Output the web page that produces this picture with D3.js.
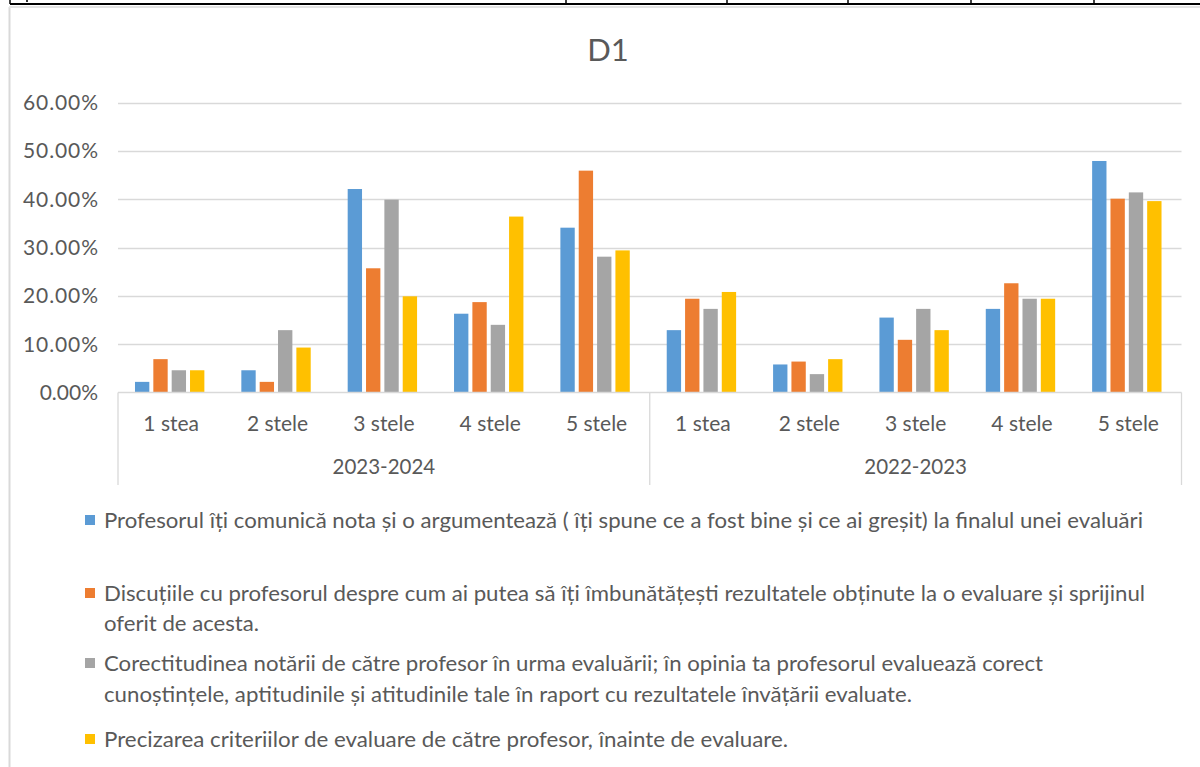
<!DOCTYPE html>
<html>
<head>
<meta charset="utf-8">
<script src="https://cdn.jsdelivr.net/npm/d3@7"></script>
<style>
  html, body { margin: 0; padding: 0; background: #fff; }
  svg { display: block; font-family: Lato, "Open Sans", sans-serif; }
</style>
</head>
<body>
<svg id="chart" width="1200" height="767"></svg>
<script>
const title = "D1";
const years = ["2023-2024", "2022-2023"];
const stars = ["1 stea", "2 stele", "3 stele", "4 stele", "5 stele"];
const seriesNames = [
  "Profesorul îți comunică nota și o argumentează ( îți spune ce a fost bine și ce ai greșit) la finalul unei evaluări",
  "Discuțiile cu profesorul despre cum ai putea să îți îmbunătățești rezultatele obținute la o evaluare și sprijinul oferit de acesta.",
  "Corectitudinea notării de către profesor în urma evaluării; în opinia ta profesorul evaluează corect cunoștințele, aptitudinile și atitudinile tale în raport cu rezultatele învățării evaluate.",
  "Precizarea criteriilor de evaluare de către profesor, înainte de evaluare."
];
// values per series, 10 categories: 2023-2024 (1..5 stele), 2022-2023 (1..5 stele)
const s1 = [0.022, 0.046, 0.421, 0.163, 0.341, 0.129, 0.058, 0.155, 0.173, 0.479];
const s2 = [0.069, 0.022, 0.257, 0.187, 0.459, 0.194, 0.064, 0.109, 0.226, 0.401];
const s3 = [0.046, 0.129, 0.399, 0.140, 0.281, 0.173, 0.038, 0.173, 0.194, 0.414];
const s4 = [0.046, 0.093, 0.199, 0.364, 0.294, 0.208, 0.069, 0.129, 0.194, 0.396];
const yTicks = [0, 0.1, 0.2, 0.3, 0.4, 0.5, 0.6];
const colors = ["#5B9BD5", "#ED7D31", "#A5A5A5", "#FFC000"];

// legend text lines (wrapped as in the reference) with their measured widths
const legendLines = [
  { s: 0, lines: [["Profesorul îți comunică nota și o argumentează ( îți spune ce a fost bine și ce ai greșit) la finalul unei evaluări", 1039]] },
  { s: 1, lines: [["Discuțiile cu profesorul despre cum ai putea să îți îmbunătățești rezultatele obținute la o evaluare și sprijinul", 1041], ["oferit de acesta.", 155]] },
  { s: 2, lines: [["Corectitudinea notării de către profesor în urma evaluării; în opinia ta profesorul evaluează corect", 939], ["cunoștințele, aptitudinile și atitudinile tale în raport cu rezultatele învățării evaluate.", 808]] },
  { s: 3, lines: [["Precizarea criteriilor de evaluare de către profesor, înainte de evaluare.", 684]] }
];
const legendY = [[520], [593, 623], [663, 694], [739]];

const svg = d3.select("#chart");
const series = [s1, s2, s3, s4];
const cats = [];
years.forEach(y => stars.forEach(s => cats.push(y + "|" + s)));

// spreadsheet frame at the very top
const frame = svg.append("g");
frame.append("line").attr("x1", 10).attr("x2", 1200).attr("y1", 4).attr("y2", 4).attr("stroke", "#000").attr("stroke-width", 2);
[10, 566, 727, 848, 971, 1094].forEach(x => {
  frame.append("line").attr("x1", x).attr("x2", x).attr("y1", 0).attr("y2", 4).attr("stroke", "#000").attr("stroke-width", 1.5);
});
frame.append("rect").attr("x", 26).attr("y", 0).attr("width", 2).attr("height", 2).attr("fill", "#333");
// chart area border
frame.append("line").attr("x1", 9.5).attr("x2", 9.5).attr("y1", 7).attr("y2", 767).attr("stroke", "#D9D9D9").attr("stroke-width", 2);
frame.append("line").attr("x1", 9).attr("x2", 1200).attr("y1", 7).attr("y2", 7).attr("stroke", "#E3E3E3").attr("stroke-width", 2);

const plotL = 118, plotR = 1181.5, y0 = 392.5, yTop = 102.5;
const x = d3.scaleBand().domain(cats).range([plotL, plotR]).paddingInner(0).paddingOuter(0);
const y = d3.scaleLinear().domain([0, 0.6]).range([y0, yTop]);
const bw = x.bandwidth();
const xs = d3.scaleBand().domain(d3.range(4)).range([bw * 0.155, bw * 0.845]).paddingInner(0);

// title
svg.append("text").attr("x", 608).attr("y", 61).attr("text-anchor", "middle")
  .attr("font-size", 31).attr("fill", "#595959").text(title);

// gridlines
svg.append("g").selectAll("line").data(yTicks.slice(1)).join("line")
  .attr("x1", plotL).attr("x2", plotR)
  .attr("y1", d => Math.round(y(d)) + 0.5).attr("y2", d => Math.round(y(d)) + 0.5)
  .attr("stroke", "#D9D9D9").attr("stroke-width", 1.3);

// y axis labels
const yAxis = d3.axisLeft(y).tickValues(yTicks).tickFormat(d => d3.format(".2f")(d * 100) + "%").tickSize(0).tickPadding(0);
const ya = svg.append("g").attr("transform", `translate(98,0)`).call(yAxis);
ya.select(".domain").remove();
ya.selectAll("text").attr("font-size", 21).attr("fill", "#595959")
  .attr("font-family", "Lato, 'Open Sans', sans-serif").attr("dy", "0.34em");
ya.selectAll("text").filter(d => d > 0).attr("textLength", 75).attr("lengthAdjust", "spacing");

// bars
series.forEach((vals, si) => {
  svg.append("g").selectAll("rect").data(vals).join("rect")
    .attr("x", (d, i) => x(cats[i]) + xs(si) + 0.5)
    .attr("width", xs.bandwidth() - 4)
    .attr("y", d => y(d))
    .attr("height", d => y0 - y(d))
    .attr("fill", colors[si]);
});

// category axis
const ax = svg.append("g");
ax.append("line").attr("x1", plotL).attr("x2", plotR).attr("y1", y0).attr("y2", y0).attr("stroke", "#D9D9D9").attr("stroke-width", 1.3);
[plotL, x(cats[5]), plotR].forEach(xx => {
  ax.append("line").attr("x1", xx).attr("x2", xx).attr("y1", y0).attr("y2", 485).attr("stroke", "#D9D9D9").attr("stroke-width", 1.3);
});
ax.selectAll("text.cat").data(cats).join("text").attr("class", "cat")
  .attr("x", d => x(d) + bw / 2).attr("y", 431).attr("text-anchor", "middle")
  .attr("font-size", 21).attr("fill", "#595959").text(d => d.split("|")[1]);
ax.selectAll("text.grp").data(years).join("text").attr("class", "grp")
  .attr("x", (d, i) => x(cats[i * 5]) + bw * 2.5).attr("y", 474).attr("text-anchor", "middle")
  .attr("font-size", 20.5).attr("fill", "#595959").text(d => d);

// legend
const lg = svg.append("g");
legendLines.forEach((item, k) => {
  lg.append("rect").attr("x", 85).attr("y", legendY[k][0] - 5).attr("width", 10).attr("height", 10).attr("fill", colors[item.s]);
  item.lines.forEach((ln, j) => {
    lg.append("text").attr("x", 104).attr("y", legendY[k][j] + 7.5)
      .attr("font-size", 21).attr("fill", "#595959")
      .attr("textLength", ln[1]).attr("lengthAdjust", "spacingAndGlyphs")
      .text(ln[0]);
  });
});
</script>
</body>
</html>
